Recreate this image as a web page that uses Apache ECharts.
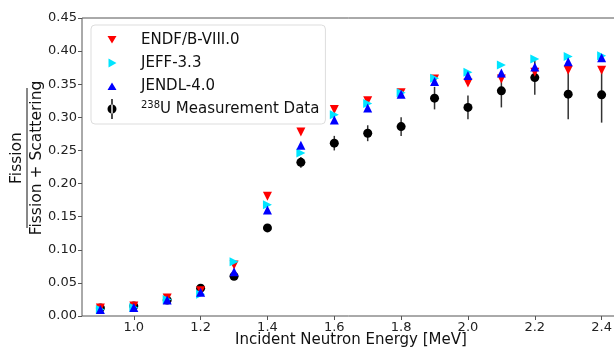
<!DOCTYPE html>
<html>
<head>
<meta charset="utf-8">
<script src="https://cdn.jsdelivr.net/npm/echarts@6/dist/echarts.min.js"></script>
<style>
  html, body { margin: 0; padding: 0; background: #fff; }
  #chart { width: 614px; height: 349px; }
</style>
</head>
<body>
<div id="chart"></div>
<script>
const energy = [0.9, 1.0, 1.1, 1.2, 1.3, 1.4, 1.5, 1.6, 1.7, 1.8, 1.9, 2.0, 2.1, 2.2, 2.3, 2.4]
const endf   = [0.012, 0.015, 0.027, 0.038, 0.077, 0.181, 0.278, 0.312, 0.325, 0.337, 0.358, 0.352, 0.358, 0.368, 0.371, 0.371]
const jeff   = [0.010, 0.013, 0.025, 0.033, 0.082, 0.168, 0.246, 0.304, 0.321, 0.337, 0.359, 0.368, 0.379, 0.388, 0.392, 0.393]
const jendl  = [0.010, 0.013, 0.024, 0.036, 0.067, 0.160, 0.258, 0.296, 0.314, 0.335, 0.354, 0.363, 0.367, 0.376, 0.384, 0.390]
const meas   = [0.012, 0.015, 0.024, 0.042, 0.060, 0.133, 0.232, 0.261, 0.276, 0.286, 0.329, 0.315, 0.340, 0.360, 0.335, 0.334]
const measErr = [0.002, 0.002, 0.003, 0.004, 0.004, 0.005, 0.008, 0.011, 0.012, 0.014, 0.017, 0.018, 0.025, 0.026, 0.038, 0.042]
const xTicks = [1.0, 1.2, 1.4, 1.6, 1.8, 2.0, 2.2, 2.4]

const font = 'DejaVu Sans'
const pair = ys => energy.map((x, i) => [x, ys[i]])

// legend icons: 10x20 box, tiny first segment keeps the box so the marker stays small
const pad = 'M0,0L0.01,0M10,20L9.99,20'
const icons = {
  down: 'path://' + pad + 'M0.5,6L9.5,6L5,13.5Z',
  right: 'path://' + pad + 'M1.5,5.5L9.5,10L1.5,14.5Z',
  up: 'path://' + pad + 'M5,6.5L9.5,14L0.5,14Z',
  meas: 'path://M4.3,0h1.4v20h-1.4z M0.5,10a4.5,4.5 0 1,0 9,0a4.5,4.5 0 1,0 -9,0z'
}

const chart = echarts.init(document.getElementById('chart'), null, { renderer: 'canvas' })

chart.setOption({
  animation: false,
  backgroundColor: '#fff',
  textStyle: { fontFamily: font },
  grid: { left: 82, right: -6, top: 18, bottom: 33, outerBoundsMode: 'none', containLabel: false,
    show: true, borderColor: '#555', borderWidth: 1 },
  legend: {
    orient: 'vertical', left: 91, top: 25,
    backgroundColor: '#fff', borderColor: '#ddd', borderWidth: 1, borderRadius: 4,
    padding: [5, 6, 5, 16], itemGap: 3, itemWidth: 10, itemHeight: 20,
    textStyle: {
      fontFamily: font, fontSize: 15, color: '#111', padding: [0, 0, 0, 19],
      rich: { sup: { fontFamily: font, fontSize: 10, verticalAlign: 'top', padding: [0, 0, 8, 0], color: '#111' },
              txt: { fontFamily: font, fontSize: 15, color: '#111' } }
    },
    formatter: n => n === 'meas' ? '{sup|238}{txt|U Measurement Data}' : n,
    data: [
      { name: 'ENDF/B-VIII.0', icon: icons.down, itemStyle: { color: '#ff0000' } },
      { name: 'JEFF-3.3', icon: icons.right, itemStyle: { color: '#00e5ff' } },
      { name: 'JENDL-4.0', icon: icons.up, itemStyle: { color: '#0000ff' } },
      { name: 'meas', icon: icons.meas, itemStyle: { color: '#000' } }
    ]
  },
  xAxis: {
    type: 'value', min: 0.845, max: 2.455,
    axisLine: { show: false },
    axisTick: { show: true, length: 4, lineStyle: { color: '#555' }, customValues: xTicks },
    axisLabel: { fontFamily: font, fontSize: 13, color: '#222', margin: 5, customValues: xTicks,
      formatter: v => v.toFixed(1) },
    splitLine: { show: false }
  },
  yAxis: {
    type: 'value', min: 0, max: 0.45, interval: 0.05,
    axisLine: { show: false },
    axisTick: { show: true, length: 4, lineStyle: { color: '#555' } },
    axisLabel: { fontFamily: font, fontSize: 13, color: '#222', margin: 5, formatter: v => v.toFixed(2) },
    splitLine: { show: false }
  },
  graphic: [{
    type: 'text', x: 351, y: 340,
    style: { text: 'Incident Neutron Energy [MeV]', fontFamily: font, fontSize: 15, fill: '#111', align: 'center', verticalAlign: 'middle' }
  }, {
    type: 'group', x: 27, y: 158, rotation: Math.PI / 2,
    children: [
      { type: 'text', x: 0, y: -2, style: { text: 'Fission', fontFamily: font, fontSize: 15.5, fill: '#111', align: 'center', verticalAlign: 'bottom' } },
      { type: 'line', shape: { x1: -70, y1: 0, x2: 70, y2: 0 }, style: { stroke: '#111', lineWidth: 1 } },
      { type: 'text', x: 0, y: 2, style: { text: 'Fission + Scattering', fontFamily: font, fontSize: 15.5, fill: '#111', align: 'center', verticalAlign: 'top' } }
    ]
  }],
  series: [
    { name: 'ENDF/B-VIII.0', type: 'scatter', data: pair(endf), symbol: 'triangle', symbolRotate: 180, symbolSize: 9,
      itemStyle: { color: '#ff0000', opacity: 1 } },
    { name: 'JEFF-3.3', type: 'scatter', data: pair(jeff), symbol: 'triangle', symbolRotate: -90, symbolSize: 9,
      itemStyle: { color: '#00e5ff', opacity: 1 } },
    { name: 'JENDL-4.0', type: 'scatter', data: pair(jendl), symbol: 'triangle', symbolSize: 9,
      itemStyle: { color: '#0000ff', opacity: 1 } },
    { name: 'meas', type: 'custom', itemStyle: { color: '#000' },
      data: energy.map((x, i) => [x, meas[i], meas[i] - measErr[i], meas[i] + measErr[i]]),
      renderItem: (params, api) => {
        const c = api.coord([api.value(0), api.value(1)])
        const lo = api.coord([api.value(0), api.value(2)])
        const hi = api.coord([api.value(0), api.value(3)])
        return { type: 'group', children: [
          { type: 'line', shape: { x1: lo[0], y1: lo[1], x2: hi[0], y2: hi[1] }, style: { stroke: '#333', lineWidth: 1.5 } },
          { type: 'circle', shape: { cx: c[0], cy: c[1], r: 4.5 }, style: { fill: '#000' } }
        ] }
      }
    }
  ]
})
</script>
</body>
</html>
